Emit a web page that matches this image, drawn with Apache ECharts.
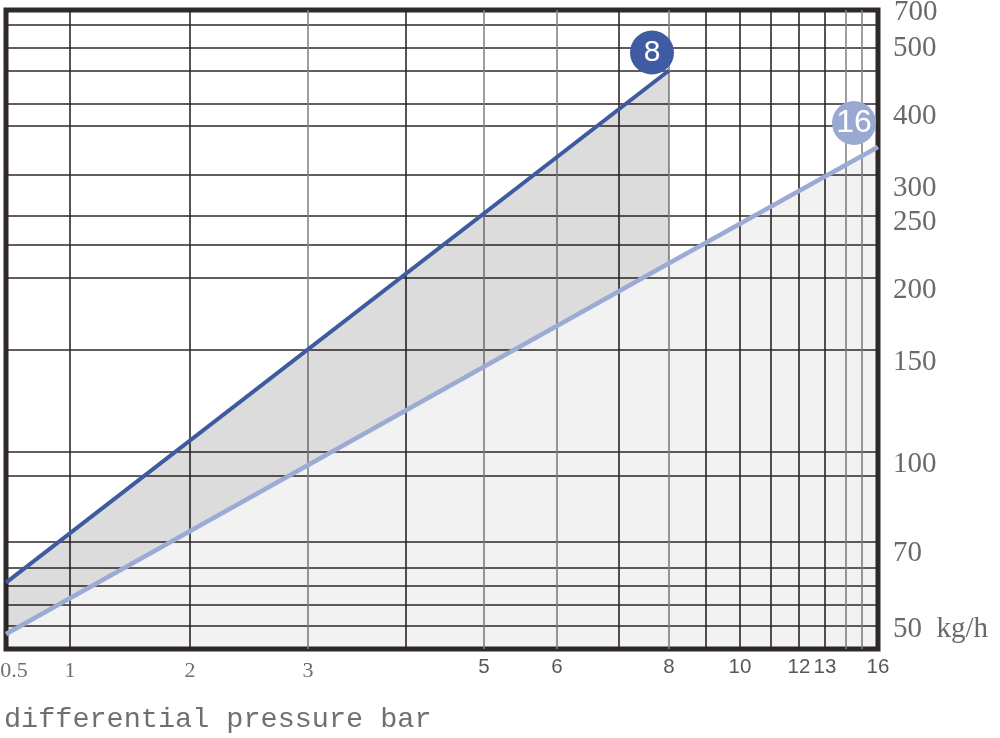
<!DOCTYPE html>
<html><head><meta charset="utf-8">
<script src="https://cdn.jsdelivr.net/npm/echarts@6/dist/echarts.min.js"></script>
<style>html,body{margin:0;padding:0;background:#fff}#c{width:1000px;height:738px}</style>
</head><body><div id="c"></div>
<script>
// ---------- x axis: differential pressure (bar), non-uniform scale of the original chart ----------
const xGridValues = [0.5, 1, 2, 3, 4, 5, 6, 7, 8, 9, 10, 11, 12, 13, 14, 15, 16];
const xGridUnits  = [0, 64, 184, 302, 400, 478, 551, 613, 663, 700, 734, 765, 793, 819, 840, 856, 872];
const xLabelValues = [0.5, 1, 2, 3, 5, 6, 8, 10, 12, 13, 16];
const xSerifLabels = [0.5, 1, 2, 3];
const xDarkGridValues = [1, 2, 4, 7, 9, 10, 11, 12, 13];
const xGreyGridValues = [3, 5, 6, 8, 14, 15];
const xTitle = 'differential pressure bar';

// ---------- y axis: flow kg/h (log) ----------
const yLabelValues = [50, 70, 100, 150, 200, 250, 300, 400, 500];
const yMidLabels = [50, 250, 500];
const yTopLabel = '700';
const yUnit = 'kg/h';
const yGridValues = [50, 54.4, 58.7, 63, 70, 91, 100, 150, 200, 228, 256, 302, 366, 400, 456, 500, 548];
const yMin = 45.6, yMax = 581.6;

// ---------- series ----------
const seriesNames = ['8', '16'];
const s8Pressure = [0.5, 8];
const s8Flow = [59.4, 457];
const s16Pressure = [0.5, 8, 16];
const s16Flow = [48.4, 212, 337];

function xScale(v) {
  for (let i = 0; i < xGridValues.length - 1; i++) {
    const a = xGridValues[i], b = xGridValues[i + 1];
    if (v >= a && v <= b) {
      return xGridUnits[i] + (v - a) / (b - a) * (xGridUnits[i + 1] - xGridUnits[i]);
    }
  }
  return v < xGridValues[0] ? xGridUnits[0] : xGridUnits[xGridUnits.length - 1];
}
const xMaxUnit = xGridUnits[xGridUnits.length - 1];
const xLabelByUnit = {};
xLabelValues.forEach(v => { xLabelByUnit[xScale(v).toFixed(2)] = v; });

const s8Data = s8Pressure.map((p, i) => [xScale(p), s8Flow[i]]);
const s16Data = s16Pressure.map((p, i) => [xScale(p), s16Flow[i]]);
// band between line 8 and line 16 over the pressure range of line 8
const bandPoints = s8Data.concat(
  s16Data.filter((d, i) => s16Pressure[i] <= s8Pressure[s8Pressure.length - 1]).slice().reverse()
);

const gridDark = '#2f2929';
const serifFont = 'Liberation Serif';
const sansFont = 'Liberation Sans';
const yLabelColor = '#6a6a6a';

const chart = echarts.init(document.getElementById('c'), null, {renderer: 'canvas'});
chart.setOption({
  animation: false,
  backgroundColor: '#ffffff',
  title: [{
    text: xTitle, left: 4, top: 705, padding: 0,
    textStyle: {fontFamily: 'Liberation Mono', fontSize: 28.5, fontWeight: 'normal', color: '#707070'}
  }, {
    text: yTopLabel, left: 894, top: -2, padding: 0,
    textStyle: {fontFamily: serifFont, fontSize: 29, fontWeight: 'normal', color: yLabelColor}
  }],
  grid: {
    left: 6, top: 10, width: 872, height: 639,
    show: true, borderColor: gridDark, borderWidth: 5, backgroundColor: 'transparent',
    outerBoundsMode: 'none', containLabel: false
  },
  xAxis: [{
    type: 'value', min: 0, max: xMaxUnit,
    axisLine: {show: false},
    axisTick: {show: false, customValues: xDarkGridValues.map(xScale)},
    splitLine: {show: true, lineStyle: {color: gridDark, width: 1.6}},
    axisLabel: {
      customValues: xLabelValues.map(xScale),
      showMinLabel: true, showMaxLabel: true,
      margin: 8,
      formatter: function (val) {
        const v = xLabelByUnit[(+val).toFixed(2)];
        if (v === undefined) return '';
        if (v === xLabelValues[0]) return '{f|' + v + '}';
        return (xSerifLabels.indexOf(v) >= 0 ? '{s|' : '{a|') + v + '}';
      },
      rich: {
        s: {fontFamily: serifFont, fontSize: 22, color: '#6e6e6e', padding: [3, 0, 0, 0]},
        f: {fontFamily: serifFont, fontSize: 22, color: '#6e6e6e', padding: [3, 0, 0, 16]},
        a: {fontFamily: sansFont, fontSize: 20.5, color: '#585858'}
      }
    }
  }, {
    type: 'value', min: 0, max: xMaxUnit,
    axisLine: {show: false},
    axisLabel: {show: false},
    axisTick: {show: false, customValues: xGreyGridValues.map(xScale)},
    splitLine: {show: true, lineStyle: {color: '#858585', width: 1.6}}
  }],
  yAxis: [{
    type: 'log', logBase: 10, min: yMin, max: yMax, position: 'right',
    axisLine: {show: false},
    axisTick: {show: false, customValues: yGridValues},
    splitLine: {show: true, lineStyle: {color: gridDark, width: 1.6}},
    axisLabel: {
      customValues: yLabelValues,
      showMinLabel: true, showMaxLabel: true,
      margin: 15,
      formatter: function (val) {
        const v = Math.round(val);
        if (v === yLabelValues[0]) return '{b|' + v + '  ' + yUnit + '}';
        return (yMidLabels.indexOf(v) >= 0 ? '{m|' : '{t|') + v + '}';
      },
      rich: {
        t: {fontFamily: serifFont, fontSize: 29, color: yLabelColor, padding: [24, 0, 0, 0]},
        m: {fontFamily: serifFont, fontSize: 29, color: yLabelColor},
        b: {fontFamily: serifFont, fontSize: 29, color: yLabelColor, padding: [7, 0, 0, 0]}
      }
    }
  }],
  series: [{
    type: 'custom', name: 'band', coordinateSystem: 'cartesian2d', silent: true, z: 1,
    data: [bandPoints[0]],
    renderItem: function (params, api) {
      return {
        type: 'polygon',
        shape: {points: bandPoints.map(p => api.coord(p))},
        style: {fill: 'rgba(0,0,0,0.137)'}
      };
    }
  }, {
    type: 'line', name: seriesNames[1], data: s16Data, symbol: 'none', z: 3,
    lineStyle: {color: '#9babd3', width: 4.5},
    areaStyle: {color: 'rgba(0,0,0,0.075)', origin: 'start'},
    markPoint: {
      silent: true, symbol: 'circle', symbolSize: 44, symbolOffset: [-24, -24],
      itemStyle: {color: '#9aa9d2'},
      label: {show: true, position: 'inside', formatter: () => seriesNames[1], color: '#fff', fontFamily: sansFont, fontSize: 32},
      data: [{coord: s16Data[s16Data.length - 1]}]
    }
  }, {
    type: 'line', name: seriesNames[0], data: s8Data, symbol: 'none', z: 4,
    lineStyle: {color: '#3e5aa0', width: 4},
    markPoint: {
      silent: true, symbol: 'circle', symbolSize: 44, symbolOffset: [-17, -18],
      itemStyle: {color: '#3f5ba1'},
      label: {show: true, position: 'inside', formatter: () => seriesNames[0], color: '#fff', fontFamily: sansFont, fontSize: 30},
      data: [{coord: s8Data[s8Data.length - 1]}]
    }
  }]
});
</script>
</body></html>
